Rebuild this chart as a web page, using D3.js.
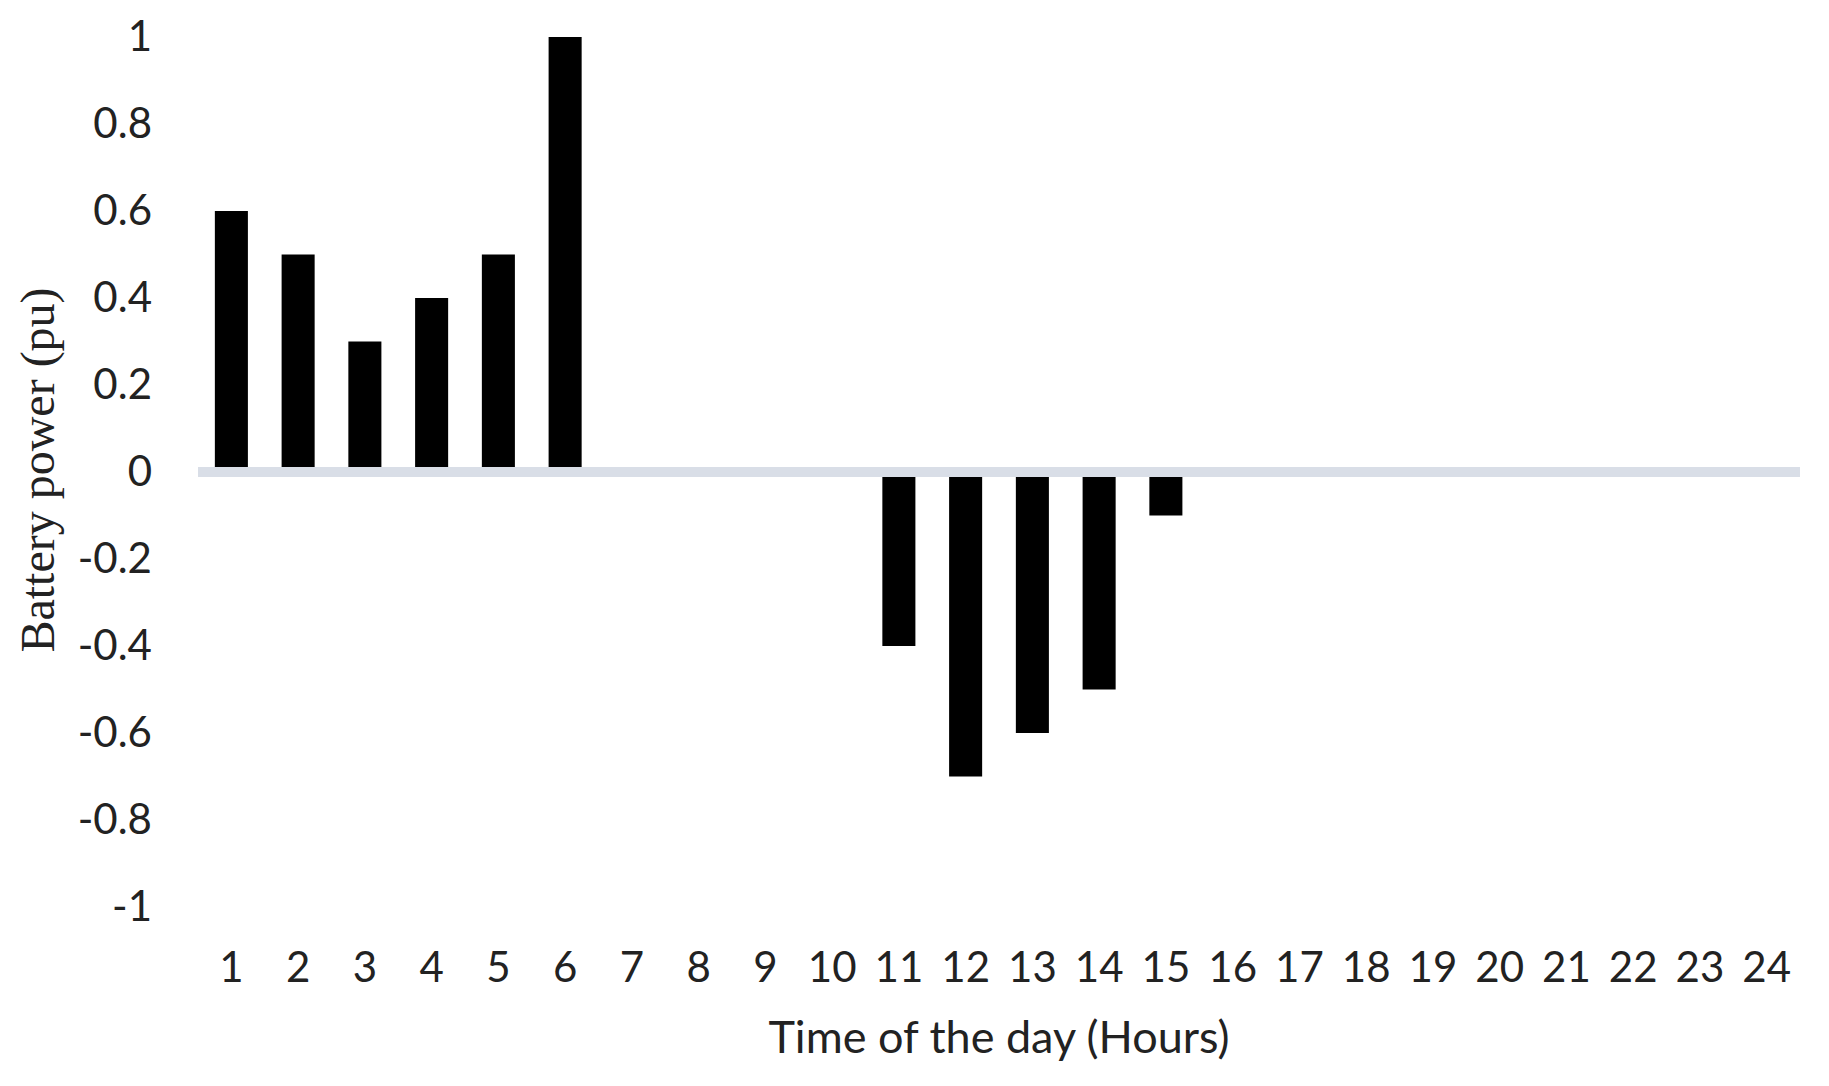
<!DOCTYPE html>
<html>
<head>
<meta charset="utf-8">
<script src="https://cdn.jsdelivr.net/npm/d3@7"></script>
<style>
  body { margin: 0; background: #fff; }
  text { fill: #222; }
</style>
</head>
<body>
<script>
var hours = ['1','2','3','4','5','6','7','8','9','10','11','12','13','14','15','16','17','18','19','20','21','22','23','24'];
var batteryPower = [0.6, 0.5, 0.3, 0.4, 0.5, 1, 0, 0, 0, 0, -0.4, -0.7, -0.6, -0.5, -0.1, 0, 0, 0, 0, 0, 0, 0, 0, 0];
var yTicks = [-1, -0.8, -0.6, -0.4, -0.2, 0, 0.2, 0.4, 0.6, 0.8, 1];

var width = 1829, height = 1086;
var svg = d3.select('body').append('svg').attr('width', width).attr('height', height);

var x = d3.scaleBand().domain(hours).range([198, 1800]).paddingInner(0.505).paddingOuter(0.2525);
var y = d3.scaleLinear().domain([-1, 1]).range([907, 37]);

/*BARS*/
svg.selectAll('rect.bar')
    .data(batteryPower)
    .enter().append('rect')
        .attr('class', 'bar')
        .attr('x', function(d, i) { return x(hours[i]); })
        .attr('width', x.bandwidth())
        .attr('y', function(d) { return y(Math.max(0, d)); })
        .attr('height', function(d) { return Math.abs(y(d) - y(0)); })
        .attr('fill', '#000');

/*ZERO LINE*/
svg.append('line')
    .attr('x1', 198).attr('x2', 1800)
    .attr('y1', y(0)).attr('y2', y(0))
    .attr('stroke', '#d9dee7')
    .attr('stroke-width', 10);

/*Y AXIS*/
var yAxis = svg.append('g')
    .attr('transform', 'translate(152,0)')
    .call(d3.axisLeft(y).tickValues(yTicks).tickSize(0).tickPadding(0).tickFormat(function(d) { return String(d); }));
yAxis.select('.domain').remove();
yAxis.selectAll('text')
    .attr('font-family', 'Lato, "Liberation Sans", sans-serif')
    .attr('font-size', 42)
    .attr('fill', '#222');

/*X AXIS*/
var xAxis = svg.append('g')
    .attr('transform', 'translate(0,952)')
    .call(d3.axisBottom(x).tickSize(0).tickPadding(0));
xAxis.select('.domain').remove();
xAxis.selectAll('text')
    .attr('font-family', 'Lato, "Liberation Sans", sans-serif')
    .attr('font-size', 42)
    .attr('fill', '#222');

/*TITLES*/
svg.append('text')
    .attr('x', 999).attr('y', 1042)
    .attr('text-anchor', 'middle')
    .attr('dominant-baseline', 'middle')
    .attr('font-family', 'Lato, "Liberation Sans", sans-serif')
    .attr('font-size', 45)
    .text('Time of the day (Hours)');

svg.append('text')
    .attr('transform', 'translate(43,470) rotate(-90)')
    .attr('text-anchor', 'middle')
    .attr('dominant-baseline', 'middle')
    .attr('font-family', '"Liberation Serif", "Times New Roman", serif')
    .attr('font-size', 48)
    .text('Battery power (pu)');
</script>
</body>
</html>
